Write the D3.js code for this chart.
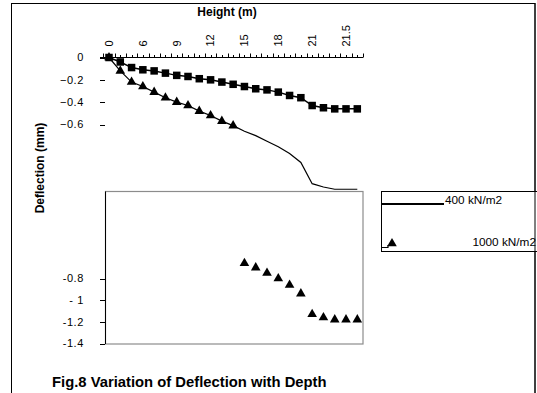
<!DOCTYPE html>
<html><head><meta charset="utf-8">
<script src="https://cdn.jsdelivr.net/npm/d3@7"></script>
<style>html,body{margin:0;padding:0;background:#fff;overflow:hidden}</style>
</head><body>
<svg id="c" width="537" height="393"></svg>
<script>
const categories = ["0","2","4","6","7","8","9","10","11","12","13","14","15","16","17","18","19","20","21","21.2","21.3","21.5","21.7"];
const shownLabels = ["0","6","9","12","15","18","21","21.5"];
const seriesNames = ["400 kN/m2","1000 kN/m2"];
const load400 = [0,-0.04,-0.09,-0.11,-0.12,-0.14,-0.16,-0.17,-0.19,-0.20,-0.22,-0.24,-0.26,-0.28,-0.29,-0.31,-0.34,-0.36,-0.43,-0.45,-0.46,-0.46,-0.46];
const load1000 = [0,-0.12,-0.22,-0.26,-0.31,-0.36,-0.40,-0.43,-0.48,-0.52,-0.57,-0.61,-0.66,-0.70,-0.75,-0.80,-0.86,-0.94,-1.13,-1.16,-1.18,-1.18,-1.18];
const upperTicks = [0,-0.2,-0.4,-0.6];
const lowerTicks = [-0.8,-1,-1.2,-1.4];
const splitIndex = 12;

const svg = d3.select("#c");
const F = "Liberation Sans, Arial, sans-serif";

// frame
svg.append("rect").attr("x",11.5).attr("y",3.5).attr("width",523.5).attr("height",420)
  .attr("fill","none").attr("stroke","#000");

const x = d3.scalePoint().domain(categories).range([109,357.3]);
const step = x.step();
const yU = d3.scaleLinear().domain([0,-0.6]).range([57.5,124.5]);
const yL = d3.scaleLinear().domain([-0.8,-1.4]).range([278.5,343.5]);

// lower plot box
svg.append("rect").attr("x",105.5).attr("y",191.5).attr("width",257.5).attr("height",152.5)
  .attr("fill","none").attr("stroke","#8c8c8c").attr("stroke-width",1.2);
svg.append("line").attr("x1",105.5).attr("x2",105.5).attr("y1",191.5).attr("y2",344)
  .attr("stroke","#000");

// top axis
const ax = svg.append("g");
ax.append("line").attr("x1",100).attr("x2",363).attr("y1",57.5).attr("y2",57.5).attr("stroke","#000");
const tickPos = d3.range(0, categories.length*2+1).map(i => x(categories[0]) - step/2 + i*step/2);
ax.selectAll("line.t").data(tickPos).join("line").attr("class","t")
  .attr("x1",d=>Math.round(d)+0.5).attr("x2",d=>Math.round(d)+0.5)
  .attr("y1",57.5).attr("y2",(d,i)=> i%2===0 ? 53.5 : 55)
  .attr("stroke","#000");
ax.selectAll("text.xl").data(shownLabels).join("text").attr("class","xl")
  .attr("transform",d=>`translate(${x(d)},46.5) rotate(-90)`)
  .attr("dy","0.35em").attr("font-family",F).attr("font-size",11)
  .text(d=>d);

// y ticks upper
const yg = svg.append("g");
yg.selectAll("line.u").data(upperTicks).join("line").attr("class","u")
  .attr("x1",100).attr("x2",105).attr("y1",d=>Math.round(yU(d))+0.5).attr("y2",d=>Math.round(yU(d))+0.5).attr("stroke","#000");
yg.selectAll("text.u").data(upperTicks).join("text").attr("class","u")
  .attr("x",84).attr("y",d=>yU(d)).attr("dy","0.35em").attr("text-anchor","end")
  .attr("font-family",F).attr("font-size",11).attr("letter-spacing",0.6)
  .text(d=>d===0?"0":d3.format("")(d));
yg.selectAll("line.l").data(lowerTicks).join("line").attr("class","l")
  .attr("x1",100).attr("x2",105).attr("y1",d=>Math.round(yL(d))+0.5).attr("y2",d=>Math.round(yL(d))+0.5).attr("stroke","#000");
yg.selectAll("text.l").data(lowerTicks).join("text").attr("class","l")
  .attr("x",84).attr("y",d=>yL(d)).attr("dy","0.35em").attr("text-anchor","end")
  .attr("font-family",F).attr("font-size",11).attr("letter-spacing",0.6)
  .text(d=>String(d).replace("-","- ").replace("- 0","-0").replace("- 1.","-1."));

// lines
const line = d3.line().x((d,i)=>x(categories[i])).y(d=>yU(d));
svg.append("path").datum(load1000).attr("d",line).attr("fill","none").attr("stroke","#000").attr("stroke-width",1.2);
svg.append("path").datum(load400).attr("d",line).attr("fill","none").attr("stroke","#000").attr("stroke-width",1.5);

// triangle markers
const tri = d3.symbol().type(d3.symbolTriangle).size(40);
svg.selectAll("path.tri").data(load1000).join("path").attr("class","tri")
  .attr("d",tri)
  .attr("transform",(d,i)=>`translate(${x(categories[i])},${i<splitIndex?yU(d):yL(d)})`)
  .attr("fill","#000");
// squares
svg.selectAll("rect.sq").data(load400).join("rect").attr("class","sq")
  .attr("x",(d,i)=>x(categories[i])-3.75).attr("y",d=>yU(d)-3.75)
  .attr("width",7.5).attr("height",7.5).attr("fill","#000");

// legend
const lg = svg.append("g");
lg.append("rect").attr("x",381.5).attr("y",191.5).attr("width",170).attr("height",60)
  .attr("fill","#fff").attr("stroke","#000");
lg.append("line").attr("x1",382).attr("x2",444).attr("y1",204).attr("y2",204).attr("stroke","#000").attr("stroke-width",2);
lg.append("text").attr("x",445).attr("y",203.5).attr("font-family",F).attr("font-size",11.8).text(seriesNames[0]);
lg.append("path").attr("d","M382,247.5H388V245").attr("fill","none").attr("stroke","#000").attr("stroke-width",1.2);
lg.append("path").attr("d",tri).attr("transform","translate(392,243.5)").attr("fill","#000");
lg.append("text").attr("x",536).attr("y",246).attr("text-anchor","end").attr("font-family",F).attr("font-size",11.8).text(seriesNames[1]);
// redraw frame right edge over legend
svg.append("line").attr("x1",535).attr("x2",535).attr("y1",3).attr("y2",393).attr("stroke","#000");

// titles
svg.append("text").attr("x",227).attr("y",16).attr("text-anchor","middle")
  .attr("font-family",F).attr("font-weight","bold").attr("font-size",12).text("Height (m)");
svg.append("text").attr("transform","translate(40,168) rotate(-90)").attr("text-anchor","middle").attr("dy","0.35em")
  .attr("font-family",F).attr("font-weight","bold").attr("font-size",12).text("Deflection (mm)");
svg.append("text").attr("x",52).attr("y",387)
  .attr("font-family",F).attr("font-weight","bold").attr("font-size",14.8).text("Fig.8 Variation of Deflection with Depth");
</script>
</body></html>
